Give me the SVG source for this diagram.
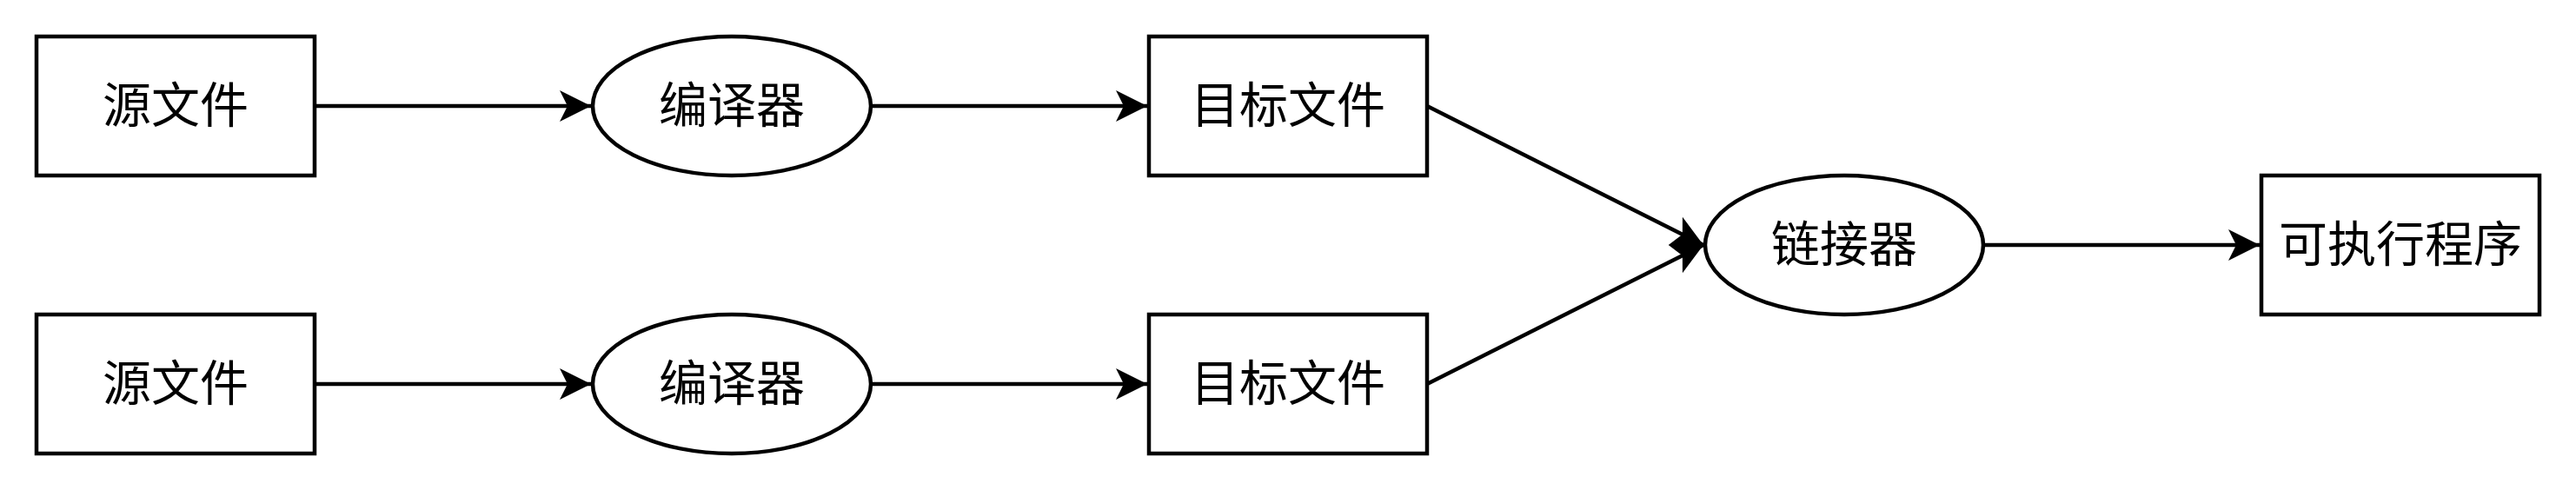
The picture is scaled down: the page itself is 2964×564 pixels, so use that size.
<svg xmlns="http://www.w3.org/2000/svg" width="2964" height="564" viewBox="0 0 2964 564">
<style>
.n{fill:#fff;stroke:#000;stroke-width:4.5}
.t{font-family:"Noto Sans CJK SC","Noto Sans",sans-serif;font-size:56px;fill:#000;text-anchor:middle;dominant-baseline:central}
.e{fill:none;stroke:#000;stroke-width:4.5}
</style>
<defs>
<marker id="arr" markerUnits="userSpaceOnUse" markerWidth="44" markerHeight="44" viewBox="-38 -22 44 44" refX="0" refY="0" orient="auto">
<path d="M0,0 L-36,-18 L-27,0 L-36,18 Z" fill="#000"/>
</marker>
</defs>
<rect width="2964" height="564" fill="#fff"/>
<g id="connectors">
<line class="e" x1="362" y1="122" x2="680" y2="122" marker-end="url(#arr)"/>
<line class="e" x1="362" y1="442" x2="680" y2="442" marker-end="url(#arr)"/>
<line class="e" x1="1002" y1="122" x2="1320" y2="122" marker-end="url(#arr)"/>
<line class="e" x1="1002" y1="442" x2="1320" y2="442" marker-end="url(#arr)"/>
<line class="e" x1="1642" y1="122" x2="1960" y2="282" marker-end="url(#arr)"/>
<line class="e" x1="1642" y1="442" x2="1960" y2="282" marker-end="url(#arr)"/>
<line class="e" x1="2282" y1="282" x2="2600" y2="282" marker-end="url(#arr)"/>
</g>
<g id="src1"><rect class="n" x="42" y="42" width="320" height="160"/><text class="t" x="202" y="116">源文件</text></g>
<g id="src2"><rect class="n" x="42" y="362" width="320" height="160"/><text class="t" x="202" y="436">源文件</text></g>
<g id="cc1"><ellipse class="n" cx="842" cy="122" rx="160" ry="80"/><text class="t" x="842" y="116">编译器</text></g>
<g id="cc2"><ellipse class="n" cx="842" cy="442" rx="160" ry="80"/><text class="t" x="842" y="436">编译器</text></g>
<g id="obj1"><rect class="n" x="1322" y="42" width="320" height="160"/><text class="t" x="1482" y="116">目标文件</text></g>
<g id="obj2"><rect class="n" x="1322" y="362" width="320" height="160"/><text class="t" x="1482" y="436">目标文件</text></g>
<g id="linker"><ellipse class="n" cx="2122" cy="282" rx="160" ry="80"/><text class="t" x="2122" y="276">链接器</text></g>
<g id="exe"><rect class="n" x="2602" y="202" width="320" height="160"/><text class="t" x="2762" y="276">可执行程序</text></g>
</svg>
